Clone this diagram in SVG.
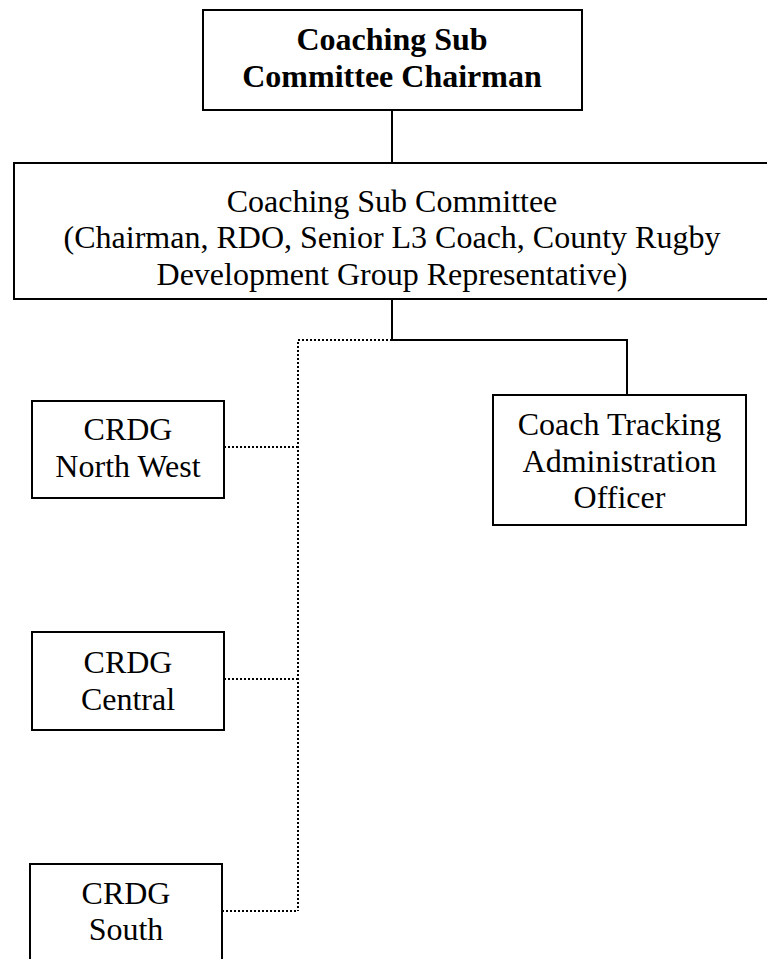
<svg xmlns="http://www.w3.org/2000/svg" width="767" height="959" viewBox="0 0 767 959">
  <style>
    .box { fill: #ffffff; stroke: #000000; stroke-width: 2; }
    .lbl { font-family: "Liberation Serif", "Times New Roman", serif; font-size: 32px; fill: #000000; text-anchor: middle; }
    .bold { font-weight: bold; }
    .solid { fill: none; stroke: #000000; stroke-width: 2; }
    .dotted { fill: none; stroke: #000000; stroke-width: 2; stroke-dasharray: 2 2; }
  </style>
  <rect width="767" height="959" fill="#ffffff"/>

  <!-- connectors -->
  <g id="connectors">
    <path class="solid" d="M392 110 V163"/>
    <path class="solid" d="M392 299 V340 H627 V395"/>
    <path class="dotted" d="M392 340 H298 V911"/>
    <path class="dotted" d="M224 447 H298"/>
    <path class="dotted" d="M224 679 H298"/>
    <path class="dotted" d="M222 911 H298"/>
  </g>

  <g id="chairman">
    <rect class="box" x="203" y="10" width="379" height="100"/>
    <text class="lbl bold" x="392" y="50">Coaching Sub</text>
    <text class="lbl bold" x="392" y="87">Committee Chairman</text>
  </g>

  <g id="sub-committee">
    <rect class="box" x="14" y="163" width="758" height="136"/>
    <text class="lbl" x="392" y="212">Coaching Sub Committee</text>
    <text class="lbl" x="392" y="248">(Chairman, RDO, Senior L3 Coach, County Rugby</text>
    <text class="lbl" x="392" y="285">Development Group Representative)</text>
  </g>

  <g id="crdg-north-west">
    <rect class="box" x="32" y="401" width="192" height="97"/>
    <text class="lbl" x="128" y="440">CRDG</text>
    <text class="lbl" x="128" y="477">North West</text>
  </g>

  <g id="coach-tracking">
    <rect class="box" x="493" y="395" width="253" height="130"/>
    <text class="lbl" x="619.5" y="435">Coach Tracking</text>
    <text class="lbl" x="619.5" y="472">Administration</text>
    <text class="lbl" x="619.5" y="508">Officer</text>
  </g>

  <g id="crdg-central">
    <rect class="box" x="32" y="632" width="192" height="98"/>
    <text class="lbl" x="128" y="673">CRDG</text>
    <text class="lbl" x="128" y="710">Central</text>
  </g>

  <g id="crdg-south">
    <rect class="box" x="30" y="864" width="192" height="110"/>
    <text class="lbl" x="126" y="904">CRDG</text>
    <text class="lbl" x="126" y="940">South</text>
  </g>
</svg>
